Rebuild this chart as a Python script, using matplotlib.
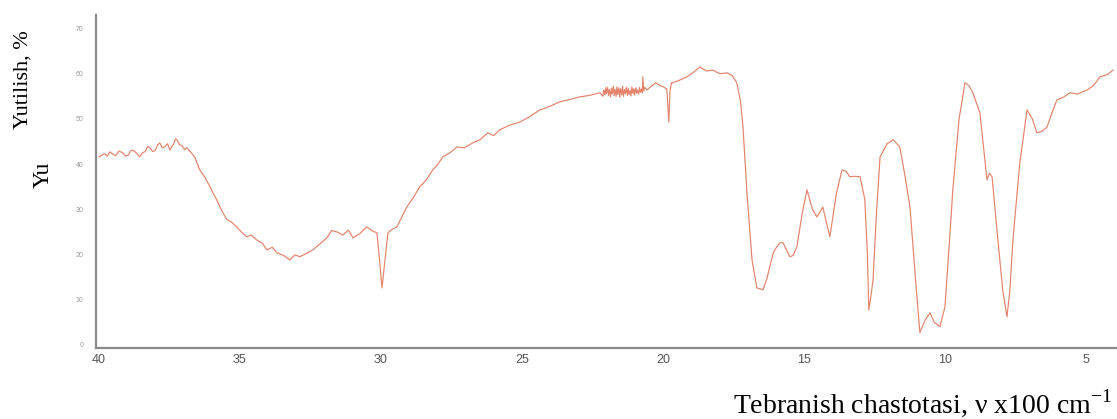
import numpy as np
import matplotlib
matplotlib.use("Agg")
import matplotlib.pyplot as plt

# IR spectrum, wavenumber in units of 100 cm-1, absorbance-like scale in %
wavenumber = [
    40.00, 39.88, 39.80, 39.70, 39.61, 39.50, 39.40, 39.28, 39.15, 39.05,
    38.95, 38.88, 38.79, 38.66, 38.55, 38.45, 38.35, 38.27, 38.19, 38.10,
    38.00, 37.92, 37.84, 37.75, 37.65, 37.56, 37.48, 37.40, 37.35, 37.28,
    37.23, 37.14, 37.05, 36.96, 36.88, 36.75, 36.60,
    36.42, 36.25, 36.06, 35.95, 35.82, 35.65, 35.46, 35.30, 35.11, 34.95,
    34.75, 34.60, 34.40, 34.20, 34.04, 33.85, 33.69, 33.45, 33.23, 33.05,
    32.87, 32.65, 32.41, 32.15, 31.91, 31.75, 31.56, 31.35, 31.15, 30.99,
    30.75, 30.50, 30.30, 30.14, 30.05, 29.96, 29.86, 29.75, 29.60, 29.43,
    29.25, 29.08, 28.85, 28.62, 28.40, 28.16, 28.00, 27.80, 27.55, 27.30,
    27.05, 26.74, 26.49, 26.21, 26.00, 25.78, 25.45, 25.07, 24.75, 24.36,
    24.00, 23.65, 23.30, 22.94, 22.60, 22.23,
    # noisy stretch near 2100-2200 cm-1
    22.13, 22.10, 22.06, 22.03, 22.00, 21.96, 21.93, 21.90, 21.86, 21.83,
    21.80, 21.76, 21.73, 21.70, 21.66, 21.63, 21.60, 21.56, 21.53, 21.50,
    21.46, 21.43, 21.40, 21.36, 21.33, 21.30, 21.26, 21.23, 21.20, 21.16,
    21.13, 21.10, 21.06, 21.03, 21.00, 20.96, 20.93, 20.90, 20.86, 20.83,
    20.80, 20.76, 20.73, 20.71, 20.68, 20.64, 20.57,
    20.40, 20.25, 20.11, 19.98, 19.86, 19.79, 19.75, 19.70, 19.65, 19.40,
    19.15, 18.90, 18.69, 18.45, 18.23, 17.98, 17.73, 17.55, 17.38, 17.25,
    17.16, 17.02, 16.84, 16.67, 16.55, 16.45, 16.32, 16.21, 16.08, 15.96,
    15.85, 15.74, 15.62, 15.50, 15.38, 15.25, 15.05, 14.89, 14.70, 14.54,
    14.33, 14.20, 14.08, 13.85, 13.65, 13.50, 13.37, 13.20, 13.01, 12.84,
    12.75, 12.70, 12.62, 12.55, 12.42, 12.30, 12.05, 11.84, 11.60, 11.42,
    11.24, 11.05, 10.89, 10.70, 10.53, 10.38, 10.18, 10.00, 9.85, 9.72,
    9.50, 9.29, 9.15, 9.01, 8.76, 8.62, 8.51, 8.42, 8.33, 8.15,
    7.95, 7.80, 7.70, 7.59, 7.35, 7.09, 6.90, 6.74, 6.55, 6.38,
    6.20, 6.03, 5.80, 5.57, 5.30, 4.96, 4.75, 4.50, 4.25, 4.04,
]
absorbance = [
    41.6, 42.0, 42.3, 41.8, 42.7, 42.2, 41.9, 42.9, 42.5, 41.8,
    42.0, 42.9, 43.1, 42.4, 41.6, 42.5, 42.8, 43.9, 43.6, 42.8,
    43.0, 44.2, 44.7, 43.6, 43.9, 44.5, 43.1, 44.0, 44.4, 45.6,
    45.4, 44.3, 44.1, 43.2, 43.6, 42.7, 41.6,
    38.7, 37.2, 35.0, 33.6, 32.1, 29.8, 27.7, 27.2, 26.1, 25.0,
    23.9, 24.3, 23.2, 22.5, 21.0, 21.6, 20.4, 19.8, 18.8, 19.9,
    19.5, 20.2, 21.0, 22.4, 23.7, 25.3, 25.0, 24.3, 25.4, 23.7,
    24.6, 26.1, 25.2, 24.8, 19.0, 12.6, 18.5, 24.8, 25.6, 26.1,
    28.4, 30.5, 32.6, 35.0, 36.4, 38.7, 39.8, 41.6, 42.5, 43.8,
    43.6, 44.7, 45.4, 46.9, 46.3, 47.6, 48.6, 49.3, 50.4, 52.0,
    52.8, 53.8, 54.3, 54.9, 55.2, 55.8,
    55.0, 56.4, 55.3, 56.9, 55.6, 57.0, 55.2, 56.5, 54.9, 56.8,
    55.5, 57.2, 55.1, 56.6, 55.0, 57.1, 55.4, 56.9, 54.8, 56.7,
    55.3, 57.3, 55.0, 56.5, 55.6, 57.0, 55.2, 56.8, 55.4, 56.3,
    55.1, 57.1, 55.6, 56.7, 55.3, 56.9, 55.7, 56.4, 55.5, 57.0,
    55.9, 56.6, 55.8, 59.3, 56.2, 57.0, 56.4,
    57.3, 58.0, 57.4, 57.1, 56.6, 49.3, 56.0, 58.0, 58.0, 58.6,
    59.3, 60.4, 61.5, 60.6, 60.8, 60.0, 60.2, 59.6, 58.0, 54.0,
    48.2, 33.6, 18.8, 12.6, 12.4, 12.2, 14.5, 17.3, 20.5, 21.7,
    22.6, 22.6, 21.0, 19.5, 19.8, 21.7, 29.5, 34.3, 30.0, 28.3,
    30.5, 27.0, 23.9, 33.5, 38.7, 38.4, 37.2, 37.3, 37.2, 32.1,
    20.0, 7.7, 11.0, 14.4, 30.0, 41.6, 44.5, 45.4, 43.8, 37.5,
    30.5, 15.0, 2.7, 5.5, 7.1, 5.0, 4.0, 8.4, 22.0, 34.3,
    50.0, 58.0, 57.4, 55.8, 51.3, 43.0, 36.5, 38.0, 37.2, 25.0,
    12.0, 6.2, 12.0, 23.2, 40.0, 52.0, 50.0, 46.9, 47.3, 48.2,
    51.5, 54.2, 54.8, 55.8, 55.5, 56.4, 57.3, 59.3, 59.8, 60.8,
]

x_ticks = [40, 35, 30, 25, 20, 15, 10, 5]
y_ticks = [0, 10, 20, 30, 40, 50, 60, 70]

W, H = 1117, 419
fig = plt.figure(figsize=(W / 100, H / 100), dpi=100)
ax = fig.add_axes([96 / W, (H - 348) / H, (W - 96) / W, (348 - 15) / H])

ax.plot(wavenumber, absorbance, color='#E4826A', lw=0.85)

ax.set_xlim(40.1, 3.9)
ax.set_ylim(-0.7, 73.0)
ax.set_xticks(x_ticks)
ax.set_yticks(y_ticks)
ax.tick_params(axis='x', length=0, pad=4, labelsize=9, labelcolor='#555555')
ax.tick_params(axis='y', length=0, pad=9, labelsize=5, labelcolor='#9a9a9a')
for lbl in ax.get_xticklabels() + ax.get_yticklabels():
    lbl.set_family(['Liberation Sans', 'DejaVu Sans'])

for side in ['top', 'right']:
    ax.spines[side].set_visible(False)
for side in ['left', 'bottom']:
    ax.spines[side].set_color('#8a8a8a')
    ax.spines[side].set_linewidth(1.6)

serif = ['Liberation Serif', 'DejaVu Serif']
fig.text(23 / W, 1 - 80 / H, 'Yutilish, %', rotation=90, ha='center', va='center',
         family=serif, fontsize=16)
fig.text(43 / W, 1 - 175 / H, 'Yu', rotation=90, ha='center', va='center',
         family=serif, fontsize=17)
fig.text(1112 / W, 1 - 413 / H, r'Tebranish chastotasi, ν x100 cm$^{\mathregular{-1}}$',
         ha='right', va='baseline', family=serif, fontsize=20)

fig.savefig('out.png', dpi=100)
